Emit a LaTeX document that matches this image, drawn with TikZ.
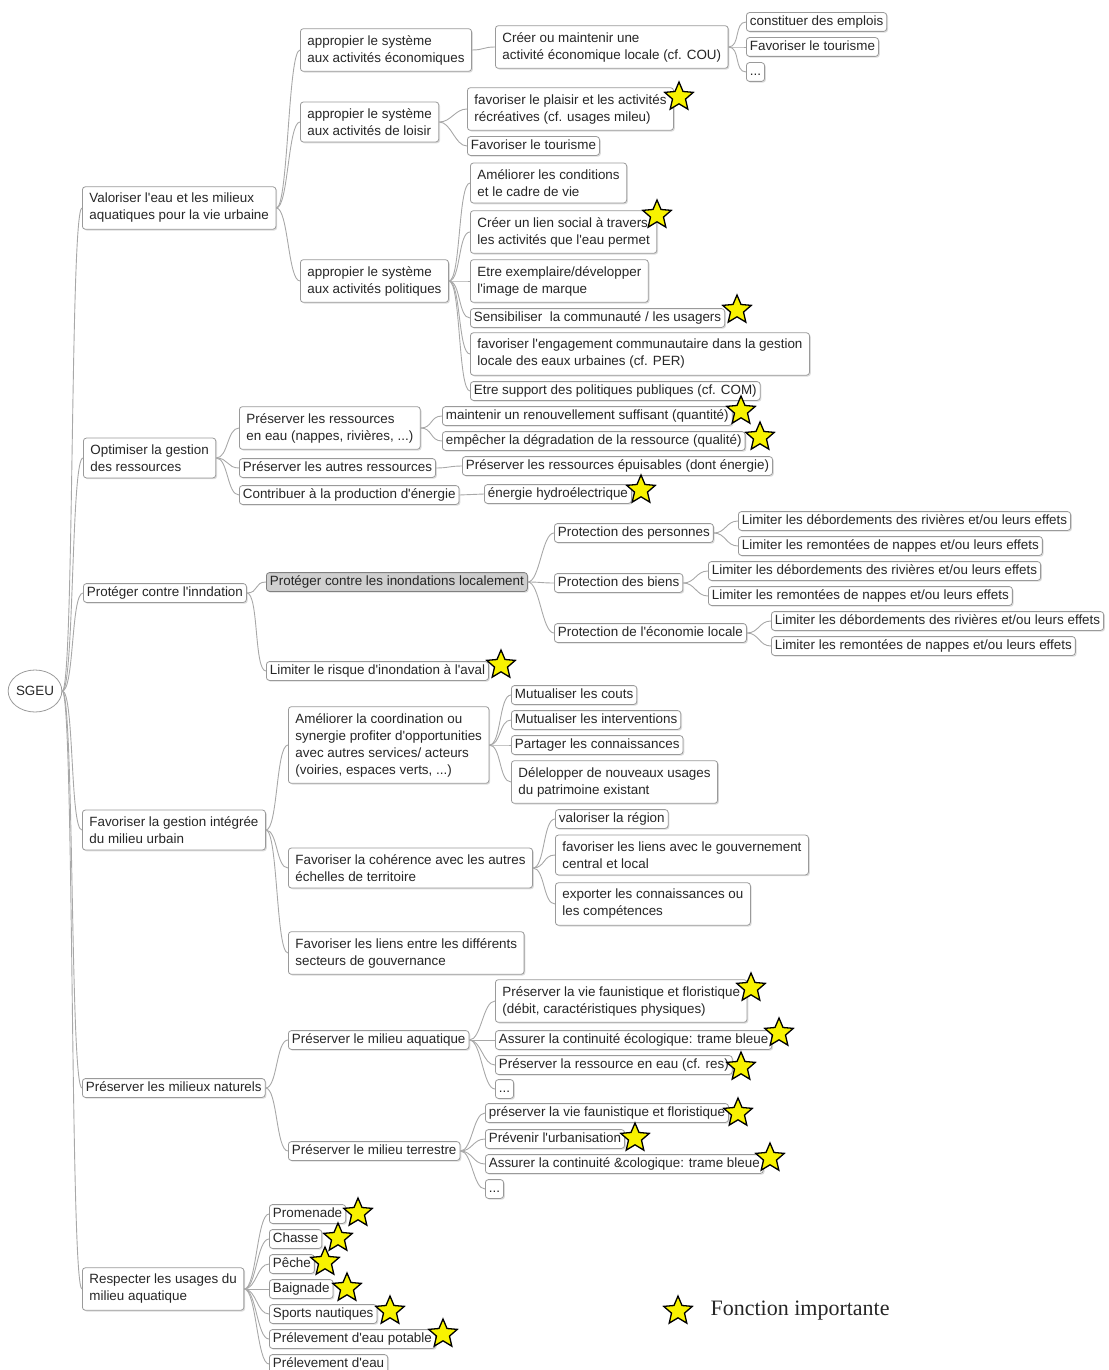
\documentclass[tikz,border=0pt]{standalone}
\usepackage{fontspec}
\setmainfont{Liberation Sans}[Ligatures=TeXOff]
\newfontfamily\legendfont{Liberation Serif}
\usetikzlibrary{shapes.geometric,shadows}
\definecolor{txt}{HTML}{262626}
\definecolor{bord}{HTML}{9A9A9A}
\definecolor{conncol}{HTML}{A8A8A8}
\definecolor{staryellow}{HTML}{F8F200}
\definecolor{hilite}{HTML}{CFCFCF}
\begin{document}
\begin{tikzpicture}[x=1pt,y=-1pt,
  basebox/.style={draw=bord, rounded corners=3pt, anchor=west,
    font=\fontsize{13.4}{17}\selectfont, text=txt, fill=white, line width=0.8pt,
    drop shadow={shadow xshift=1.3pt, shadow yshift=-1.3pt, fill=black!30, opacity=0.45}},
  box/.style={basebox, inner xsep=3.5pt, inner ysep=3.2pt, text height=9.6pt, text depth=2.8pt},
  mbox/.style={basebox, align=left, inner xsep=7pt, inner ysep=6.5pt},
  conn/.style={draw=conncol, line width=0.9pt},
  imp/.style={star, star points=5, star point ratio=2.2, minimum size=30pt, inner sep=0pt,
    draw=black, line width=1.3pt, fill=staryellow}]
\useasboundingbox (0,0) rectangle (1108,1370);

% root
\node[ellipse, draw=bord, line width=0.8pt, minimum width=51pt, minimum height=42pt, inner sep=0pt,
  font=\fontsize{13.4}{17}\selectfont, text=txt] (root) at (35,691) {SGEU};

% level 1
\node[mbox] (a) at (82,208) {Valoriser l'eau et les milieux\\aquatiques pour la vie urbaine};
\node[mbox] (b) at (83,458) {Optimiser la gestion\\des ressources};
\node[box]  (c) at (83,593) {Protéger contre l'inndation};
\node[mbox] (d) at (82,830) {Favoriser la gestion intégrée\\du milieu urbain};
\node[box]  (e) at (82,1088) {Préserver les milieux naturels};
\node[mbox] (f) at (82,1289) {Respecter les usages du\\milieu aquatique};

% branch a
\node[mbox] (a1) at (300,50) {appropier le système\\aux activités économiques};
\node[mbox] (a2) at (300,122) {appropier le système\\aux activités de loisir};
\node[mbox] (a3) at (300,281) {appropier le système\\aux activités politiques};
\node[mbox] (a11) at (495,47) {Créer ou maintenir une\\activité économique locale (cf. COU)};
\node[box] (a111) at (746,22) {constituer des emplois};
\node[box] (a112) at (746,47) {Favoriser le tourisme};
\node[box] (a113) at (746,72) {...};
\node[mbox] (a21) at (467,109) {favoriser le plaisir et les activités\\récréatives (cf. usages mileu)};
\node[box] (a22) at (467,146) {Favoriser le tourisme};
\node[mbox] (a31) at (470,183) {Améliorer les conditions\\et le cadre de vie};
\node[mbox] (a32) at (470,232) {Créer un lien social à travers\\les activités que l'eau permet};
\node[mbox] (a33) at (470,281) {Etre exemplaire/développer\\l'image de marque};
\node[box] (a34) at (470,318) {Sensibiliser \ la communauté / les usagers};
\node[mbox] (a35) at (470,354) {favoriser l'engagement communautaire dans la gestion\\locale des eaux urbaines (cf. PER)};
\node[box] (a36) at (470,391) {Etre support des politiques publiques (cf. COM)};

% branch b
\node[mbox] (b1) at (239,428) {Préserver les ressources\\en eau (nappes, rivières, ...)};
\node[box] (b11) at (442,416) {maintenir un renouvellement suffisant (quantité)};
\node[box] (b12) at (442,441) {empêcher la dégradation de la ressource (qualité)};
\node[box] (b2) at (239,468) {Préserver les autres ressources};
\node[box] (b21) at (462,466) {Préserver les ressources épuisables (dont énergie)};
\node[box] (b3) at (239,495) {Contribuer à la production d'énergie};
\node[box] (b31) at (484,494) {énergie hydroélectrique};

% branch c
\node[box, fill=hilite, draw=gray] (c1) at (266,582) {Protéger contre les inondations localement};
\node[box] (c11) at (554,533) {Protection des personnes};
\node[box] (c111) at (738,521) {Limiter les débordements des rivières et/ou leurs effets};
\node[box] (c112) at (738,546) {Limiter les remontées de nappes et/ou leurs effets};
\node[box] (c12) at (554,583) {Protection des biens};
\node[box] (c121) at (708,571) {Limiter les débordements des rivières et/ou leurs effets};
\node[box] (c122) at (708,596) {Limiter les remontées de nappes et/ou leurs effets};
\node[box] (c13) at (554,633) {Protection de l'économie locale};
\node[box] (c131) at (771,621) {Limiter les débordements des rivières et/ou leurs effets};
\node[box] (c132) at (771,646) {Limiter les remontées de nappes et/ou leurs effets};
\node[box] (c2) at (266,671) {Limiter le risque d'inondation à l'aval};

% branch d
\node[mbox] (d1) at (288,745) {Améliorer la coordination ou\\synergie profiter d'opportunities\\avec autres services/ acteurs\\(voiries, espaces verts, ...)};
\node[box] (d11) at (511,695) {Mutualiser les couts};
\node[box] (d12) at (511,720) {Mutualiser les interventions};
\node[box] (d13) at (511,745) {Partager les connaissances};
\node[mbox] (d14) at (511,782) {Délelopper de nouveaux usages\\du patrimoine existant};
\node[mbox] (d2) at (288,868) {Favoriser la cohérence avec les autres\\échelles de territoire};
\node[box] (d21) at (555,819) {valoriser la région};
\node[mbox] (d22) at (555,855) {favoriser les liens avec le gouvernement\\central et local};
\node[mbox] (d23) at (555,904) {exporter les connaissances ou\\les compétences};
\node[mbox] (d3) at (288,953) {Favoriser les liens entre les différents\\secteurs de gouvernance};

% branch e
\node[box] (e1) at (288,1040) {Préserver le milieu aquatique};
\node[mbox] (e11) at (495,1001) {Préserver la vie faunistique et floristique\\(débit, caractéristiques physiques)};
\node[box] (e12) at (495,1040) {Assurer la continuité écologique: trame bleue};
\node[box] (e13) at (495,1065) {Préserver la ressource en eau (cf. res)};
\node[box] (e14) at (495,1089) {...};
\node[box] (e2) at (288,1151) {Préserver le milieu terrestre};
\node[box] (e21) at (485,1113) {préserver la vie faunistique et floristique};
\node[box] (e22) at (485,1139) {Prévenir l'urbanisation};
\node[box] (e23) at (485,1164) {Assurer la continuité \&cologique: trame bleue};
\node[box] (e24) at (485,1189) {...};

% branch f
\node[box] (f1) at (269,1214) {Promenade};
\node[box] (f2) at (269,1239) {Chasse};
\node[box] (f3) at (269,1264) {Pêche};
\node[box] (f4) at (269,1289) {Baignade};
\node[box] (f5) at (269,1314) {Sports nautiques};
\node[box] (f6) at (269,1339) {Prélevement d'eau potable};
\node[box] (f7) at (269,1364) {Prélevement d'eau};

% connectors
\foreach \p/\c in {root/a,root/b,root/c,root/d,root/e,root/f,
  a/a1,a/a2,a/a3,a1/a11,a11/a111,a11/a112,a11/a113,a2/a21,a2/a22,
  a3/a31,a3/a32,a3/a33,a3/a34,a3/a35,a3/a36,
  b/b1,b/b2,b/b3,b1/b11,b1/b12,b2/b21,b3/b31,
  c/c1,c/c2,c1/c11,c1/c12,c1/c13,c11/c111,c11/c112,c12/c121,c12/c122,c13/c131,c13/c132,
  d/d1,d/d2,d/d3,d1/d11,d1/d12,d1/d13,d1/d14,d2/d21,d2/d22,d2/d23,
  e/e1,e/e2,e1/e11,e1/e12,e1/e13,e1/e14,e2/e21,e2/e22,e2/e23,e2/e24,
  f/f1,f/f2,f/f3,f/f4,f/f5,f/f6,f/f7}
  \draw[conn] (\p.east) .. controls +(12,0) and +(-12,0) .. (\c.west);

% important stars
\node[imp] (s1) at (679,97) {};
\node[imp] (s2) at (657,215) {};
\node[imp] (s3) at (737,310) {};
\node[imp] (s4) at (741,411) {};
\node[imp] (s5) at (760,437) {};
\node[imp] (s6) at (641,490) {};
\node[imp] (s7) at (501,665) {};
\node[imp] (s8) at (751,988) {};
\node[imp] (s9) at (779,1033) {};
\node[imp] (s10) at (741,1067) {};
\node[imp] (s11) at (738,1113) {};
\node[imp] (s12) at (635,1138) {};
\node[imp] (s13) at (770,1158) {};
\node[imp] (s14) at (358,1213) {};
\node[imp] (s15) at (338,1238) {};
\node[imp] (s16) at (325,1262) {};
\node[imp] (s17) at (347,1288) {};
\node[imp] (s18) at (390,1311) {};
\node[imp] (s19) at (443,1334) {};

% legend
\node[imp] (legstar) at (678,1311) {};
\node[anchor=west, font=\legendfont\fontsize{22}{24}\selectfont, text=black!85] (legtext) at (707,1311) {Fonction importante};
\end{tikzpicture}
\end{document}
